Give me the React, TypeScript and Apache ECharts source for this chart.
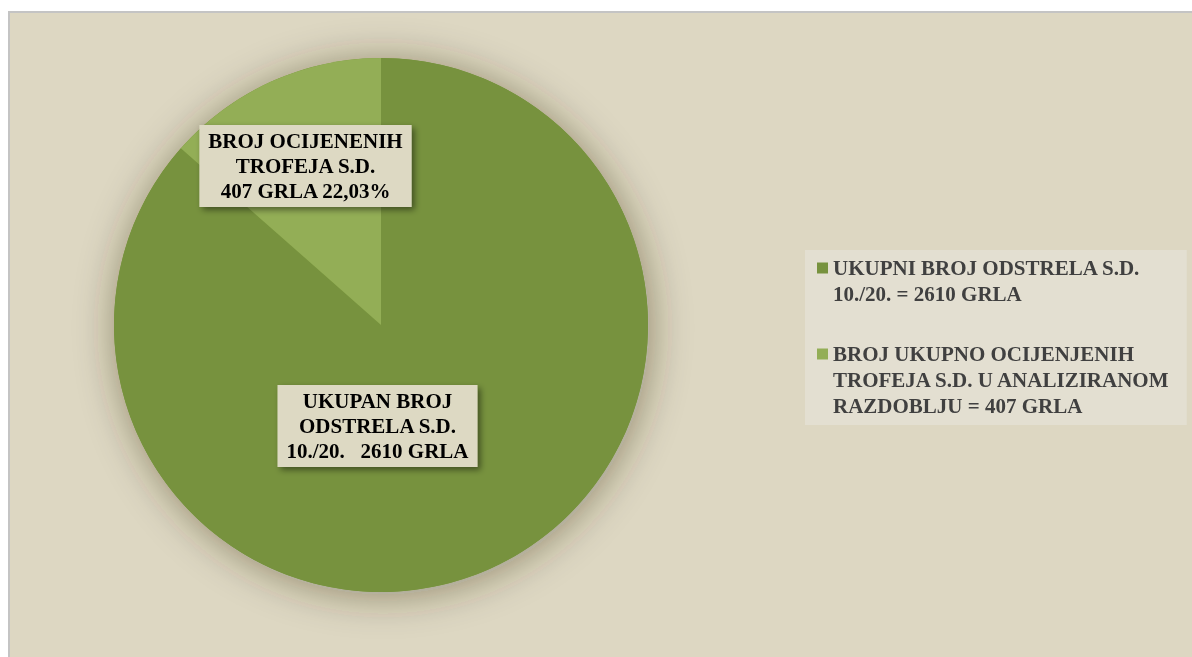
import React, { useEffect, useRef } from "react";
import * as echarts from "echarts";

const categories = [
  "UKUPNI BROJ ODSTRELA S.D.\n10./20. = 2610 GRLA",
  "BROJ UKUPNO OCIJENJENIH\nTROFEJA S.D. U ANALIZIRANOM\nRAZDOBLJU = 407 GRLA",
];
const values = [2610, 407];
const sliceLabels = [
  "UKUPAN BROJ\nODSTRELA S.D.\n10./20.   2610 GRLA",
  "BROJ OCIJENENIH\nTROFEJA S.D.\n407 GRLA 22,03%",
];
const colors = ["#77923e", "#93ae56"];
const labelCenters = [
  [377.5, 426],
  [305.5, 166],
];

const FONT = "'Liberation Serif', 'Times New Roman', serif";

export default function App() {
  const ref = useRef<HTMLDivElement>(null);
  useEffect(() => {
    if (!ref.current) return;
    const chart = echarts.init(ref.current, null, { renderer: "svg" });
    const total = values.reduce((a, b) => a + b, 0);
    const rich: any = {
      g: { width: 5, lineHeight: 26 },
      ind: { width: 16, lineHeight: 26 },
      t: {
        fontSize: 21,
        fontWeight: "bold",
        fontFamily: FONT,
        color: "#404040",
        lineHeight: 26,
      },
    };
    colors.forEach((c, i) => {
      rich["m" + i] = { width: 11, height: 11, backgroundColor: c, lineHeight: 26 };
    });
    chart.setOption({
      animation: false,
      graphic: [
        {
          type: "rect",
          z: -10,
          silent: true,
          shape: { x: 9, y: 12, width: 1200, height: 700 },
          style: { fill: "#ddd7c2", stroke: "#c4c4c4", lineWidth: 2 },
        },
      ],
      legend: {
        orient: "vertical",
        left: 805,
        top: 250,
        padding: [5, 16, 6, 7],
        itemGap: 34,
        itemWidth: 0,
        itemHeight: 0,
        selectedMode: false,
        backgroundColor: "#e3dfd1",
        data: categories,
        itemStyle: { opacity: 0 },
        formatter: (name: string) => {
          const i = categories.indexOf(name);
          return name
            .split("\n")
            .map((l, k) => (k === 0 ? `{m${i}|}{g|}` : `{ind|}`) + `{t|${l}}`)
            .join("\n");
        },
        textStyle: { rich, fontSize: 21, lineHeight: 26, fontFamily: FONT },
      },
      series: [
        {
          type: "pie",
          silent: true,
          center: [381, 325],
          radius: 267,
          z: 1,
          label: { show: false },
          labelLine: { show: false },
          itemStyle: {
            color: colors[0],
            shadowBlur: 40,
            shadowColor: "rgba(50,45,30,0.45)",
            shadowOffsetX: 2,
            shadowOffsetY: 3,
          },
          data: [{ value: total, name: "__shadow" }],
        },
        {
          type: "pie",
          z: 2,
          center: [381, 325],
          radius: 267,
          startAngle: 90,
          clockwise: true,
          data: categories.map((c, i) => ({
            name: c,
            value: values[i],
            itemStyle: { color: colors[i] },
          })),
          labelLine: { show: false },
          label: {
            show: true,
            position: "inside",
            formatter: (p: any) => sliceLabels[p.dataIndex],
            fontFamily: FONT,
            fontWeight: "bold",
            fontSize: 21,
            lineHeight: 25,
            color: "#000",
            align: "center",
            verticalAlign: "middle",
            backgroundColor: "#ddd9c3",
            padding: [4, 9, 3, 9],
            shadowColor: "rgba(0,0,0,0.45)",
            shadowBlur: 6,
            shadowOffsetX: 3,
            shadowOffsetY: 3,
          },
          labelLayout: (p: any) => ({
            x: labelCenters[p.dataIndex][0],
            y: labelCenters[p.dataIndex][1],
            align: "center",
            verticalAlign: "middle",
          }),
        },
      ],
    });
    return () => chart.dispose();
  }, []);
  return (
    <div
      ref={ref}
      style={{ position: "fixed", left: 0, top: 0, width: 1192, height: 657 }}
    />
  );
}
